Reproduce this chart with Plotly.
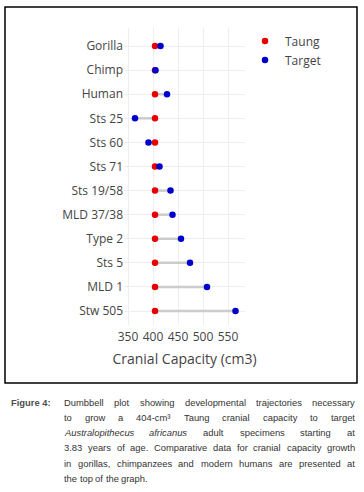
import json
import plotly.graph_objects as go

# ---- data ----
specimens = ["Gorilla", "Chimp", "Human", "Sts 25", "Sts 60", "Sts 71",
             "Sts 19/58", "MLD 37/38", "Type 2", "Sts 5", "MLD 1", "Stw 505"]
taung = [404] * 12
target = [415, 405, 428, 364, 391, 413, 435, 439, 456, 474, 508, 565]
x_ticks = [350, 400, 450, 500, 550]

caption_label = "Figure 4:"
caption_lines = [
    "Dumbbell plot showing developmental trajectories necessary",
    "to grow a 404-cm³ Taung cranial capacity to target",
    "<i>Australopithecus</i> <i>africanus</i> adult specimens starting at",
    "3.83 years of age. Comparative data for cranial capacity growth",
    "in gorillas, chimpanzees and modern humans are presented at",
    "the top of the graph.",
]

# ---- layout geometry (pixels) ----
W, H = 364, 492
PL, PR, PT, PB = 124, 245, 28, 325


def px(x):
    return (x - PL) / (PR - PL)


def py(y):
    return (PB - y) / (PB - PT)


# Arial / Liberation Sans metrics (1/1000 em) for a first estimate of word widths
AW = {' ': 278, 'a': 556, 'b': 556, 'c': 500, 'd': 556, 'e': 556, 'f': 278, 'g': 556,
      'h': 556, 'i': 222, 'j': 222, 'k': 500, 'l': 222, 'm': 833, 'n': 556, 'o': 556,
      'p': 556, 'q': 556, 'r': 333, 's': 500, 't': 278, 'u': 556, 'v': 500, 'w': 722,
      'x': 500, 'y': 500, 'z': 500, 'A': 667, 'C': 722, 'D': 722, 'T': 611, 'F': 611,
      'G': 778, '.': 278, ',': 278, '-': 333, ':': 278, '³': 333}
CAP_FONT = "Liberation Sans, Arial, sans-serif"
CAP_SIZE = 9.4
TEXT_L, TEXT_R = 64, 355


def est_width(word):
    plain = word.replace("<i>", "").replace("</i>", "")
    return sum(AW.get(c, 556) for c in plain) / 1000 * CAP_SIZE


fig = go.Figure()

# connecting segments
seg_x, seg_y = [], []
for s, a, b in zip(specimens, taung, target):
    seg_x += [a, b, None]
    seg_y += [s, s, None]
fig.add_trace(go.Scatter(x=seg_x, y=seg_y, mode="lines",
                         line=dict(color="#cccccc", width=2.5),
                         showlegend=False, hoverinfo="skip"))
fig.add_trace(go.Scatter(x=taung, y=specimens, mode="markers", name="Taung",
                         marker=dict(color="#e60000", size=6.5)))
fig.add_trace(go.Scatter(x=target, y=specimens, mode="markers", name="Target",
                         marker=dict(color="#0000cc", size=6.5)))

annotations = []
line_y0, line_dy = 402, 15.3
annotations.append(dict(text="<b>" + caption_label + "</b>", x=px(11), y=py(line_y0),
                        xref="paper", yref="paper", xanchor="left", yanchor="middle",
                        align="left", showarrow=False, borderpad=0, borderwidth=0,
                        font=dict(family=CAP_FONT, size=CAP_SIZE, color="#4d4d4d")))
line_groups = []
space_w = AW[' '] / 1000 * CAP_SIZE
for i, line in enumerate(caption_lines):
    words = line.split(" ")
    widths = [est_width(w) for w in words]
    justify = i < len(caption_lines) - 1
    gap = (TEXT_R - TEXT_L - sum(widths)) / (len(words) - 1) if justify else space_w
    xx = TEXT_L
    ks = []
    for w, ww in zip(words, widths):
        ks.append(len(annotations))
        annotations.append(dict(text=w, x=px(xx), y=py(line_y0 + i * line_dy),
                                xref="paper", yref="paper", xanchor="left", yanchor="middle",
                                align="left", showarrow=False, borderpad=0, borderwidth=0,
                                font=dict(family=CAP_FONT, size=CAP_SIZE, color="#333333")))
        xx += ww + gap
    line_groups.append(dict(ks=ks, justify=justify))

fig.update_layout(
    width=W, height=H,
    margin=dict(l=PL, r=W - PR, t=PT, b=H - PB, pad=0),
    template="none",
    paper_bgcolor="white", plot_bgcolor="white",
    font=dict(family="Open Sans, verdana, arial, sans-serif", size=12, color="#444"),
    xaxis=dict(range=[342, 584], tickvals=x_ticks, gridcolor="#eeeeee", zeroline=False,
               showline=False, ticks="", ticklabelstandoff=3,
               title=dict(text="Cranial Capacity (cm3)", font=dict(size=14), standoff=10)),
    yaxis=dict(categoryorder="array", categoryarray=specimens, range=[11.58, -0.75],
               gridcolor="#eeeeee", zeroline=False, showline=False, ticks=""),
    legend=dict(x=1.0, y=1.005, xanchor="left", yanchor="top", font=dict(size=12),
                tracegroupgap=0),
    shapes=[dict(type="rect", xref="paper", yref="paper",
                 x0=px(5), x1=px(357), y0=py(383), y1=py(7),
                 line=dict(color="black", width=1.5))],
    annotations=annotations,
)

# justify caption lines using widths measured in the browser
post = """
document.body.style.margin = '0';
var gd = document.getElementById('{plot_id}');
var groups = %s;
var L = %f, R = %f, PL = %f, PW = %f, SP = %f;
var upd = {};
groups.forEach(function(gr) {
  var ks = gr.ks;
  var ws = ks.map(function(k) {
    var t = gd.querySelector('g.annotation[data-index="' + k + '"] text.annotation-text');
    return t ? t.getComputedTextLength() : 0;
  });
  var sum = ws.reduce(function(a, b) { return a + b; }, 0);
  var gap = (gr.justify && ks.length > 1) ? (R - L - sum) / (ks.length - 1) : SP;
  var x = L;
  ks.forEach(function(k, j) {
    upd['annotations[' + k + '].x'] = (x - PL) / PW;
    x += ws[j] + gap;
  });
});
Plotly.relayout(gd, upd);
""" % (json.dumps(line_groups), TEXT_L, TEXT_R, PL, PR - PL, space_w)

fig.write_html("out.html", config={"displayModeBar": False}, post_script=post)
